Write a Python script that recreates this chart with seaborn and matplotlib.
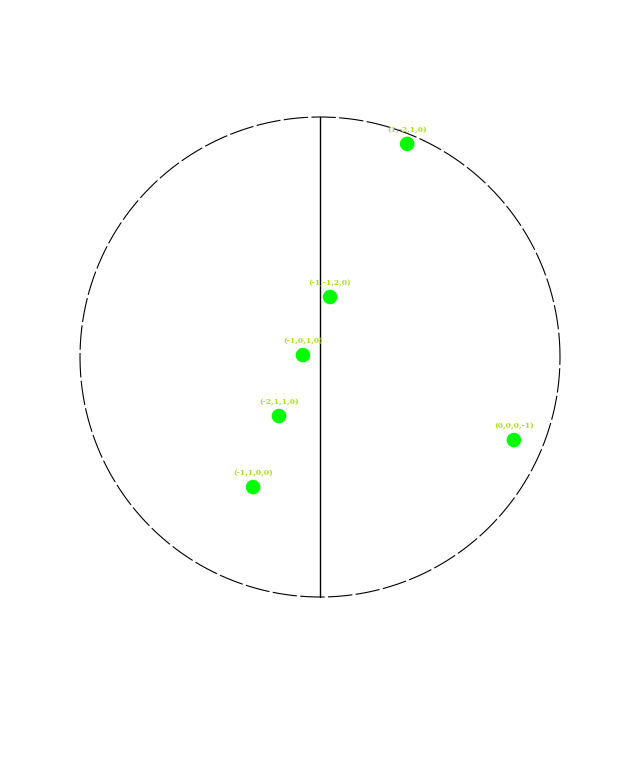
import numpy as np
import pandas as pd
import matplotlib
matplotlib.use("Agg")
import matplotlib.pyplot as plt
import seaborn as sns

# pole labels and projected positions (unit circle)
labels = ["(1,-2,1,0)", "(-1,-1,2,0)", "(-1,0,1,0)", "(-2,1,1,0)", "(-1,1,0,0)", "(0,0,0,-1)"]
px = [0.363, 0.042, -0.071, -0.171, -0.279, 0.808]
py = [0.888, 0.250, 0.008, -0.246, -0.542, -0.346]

df = pd.DataFrame({"x": px, "y": py, "label": labels})

sns.set_style("white")
fig = plt.figure(figsize=(6.42, 7.57), dpi=100)
ax = fig.add_axes([0, 0, 1, 1])

# primitive circle, drawn dashed with small gaps
t = np.linspace(0, 2 * np.pi, 400)
ax.plot(np.cos(t), np.sin(t), color="black", lw=0.8, linestyle=(0, (22, 3)))
ax.plot([0, 0], [-1, 1], color="black", lw=1)

sns.scatterplot(data=df, x="x", y="y", ax=ax, color="#00ff00", s=110,
                edgecolor="none", legend=False, zorder=3)
for _, r in df.iterrows():
    ax.annotate(r["label"], (r["x"], r["y"]), xytext=(0, 7), textcoords="offset points",
                ha="center", va="bottom", fontsize=5.5, color="#aadd22",
                family="DejaVu Serif", fontweight="bold")

# map unit circle to the reference pixel box
cx, cy, rad = 320, 357, 240
ax.set_xlim(-cx / rad, (642 - cx) / rad)
ax.set_ylim(-(757 - cy) / rad, cy / rad)
ax.set_axis_off()

fig.savefig("out.png", dpi=100)
